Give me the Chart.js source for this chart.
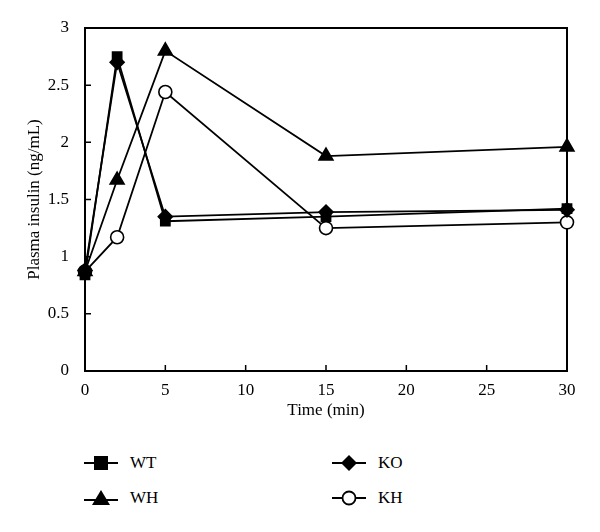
<!DOCTYPE html>
<html>
<head>
<meta charset="utf-8">
<script src="https://cdn.jsdelivr.net/npm/chart.js@4.4.0/dist/chart.umd.min.js"></script>
<style>
  body { margin: 0; background: #fff; }
  #wrap { position: relative; width: 600px; height: 532px; }
  #box { position: absolute; left: 0; top: 0; width: 600px; height: 440px; }
  .leg { position: absolute; font-family: "Liberation Serif", "DejaVu Serif", serif; font-size: 17px; color: #000; display: flex; align-items: center; }
  .leg svg { margin-right: 12px; }
</style>
</head>
<body>
<div id="wrap">
  <div id="box"><canvas id="myChart"></canvas></div>
  <div class="leg" style="left:84px;top:453px"><svg width="34" height="20"><line x1="0" y1="10" x2="34" y2="10" stroke="#000" stroke-width="1.8"/><rect x="10" y="3" width="14" height="14" fill="#000"/></svg>WT</div>
  <div class="leg" style="left:84px;top:488px"><svg width="34" height="20"><line x1="0" y1="12" x2="34" y2="12" stroke="#000" stroke-width="1.8"/><polygon points="17,2 26,17 8,17" fill="#000"/></svg>WH</div>
  <div class="leg" style="left:332px;top:453px"><svg width="34" height="20"><line x1="0" y1="10" x2="34" y2="10" stroke="#000" stroke-width="1.8"/><polygon points="17,2 25,10 17,18 9,10" fill="#000"/></svg>KO</div>
  <div class="leg" style="left:332px;top:488px"><svg width="34" height="20"><line x1="0" y1="10" x2="34" y2="10" stroke="#000" stroke-width="1.8"/><circle cx="17" cy="10" r="6.5" fill="#fff" stroke="#000" stroke-width="1.8"/></svg>KH</div>
</div>
<script>
const times = [0, 2, 5, 15, 30];
const wt = [0.84, 2.75, 1.31, 1.35, 1.42];
const wh = [0.87, 1.67, 2.80, 1.88, 1.96];
const ko = [0.88, 2.70, 1.35, 1.39, 1.41];
const kh = [0.87, 1.17, 2.44, 1.25, 1.30];

const xTicks = [0, 5, 10, 15, 20, 25, 30];
const yTicks = [0, 0.5, 1, 1.5, 2, 2.5, 3];

function pts(vals) {
  return times.map((t, i) => ({ x: t, y: vals[i] }));
}

const serif = '"Liberation Serif", "DejaVu Serif", serif';

// frame and inward ticks
const frame = {
  id: 'frame',
  beforeDatasetsDraw(chart) {
    const c = chart.ctx, a = chart.chartArea;
    const xs = chart.scales.x, ys = chart.scales.y;
    c.save();
    c.strokeStyle = '#000';
    c.lineWidth = 2;
    c.strokeRect(a.left, a.top, a.right - a.left, a.bottom - a.top);
    c.lineWidth = 1.5;
    c.beginPath();
    xTicks.forEach(v => {
      const px = xs.getPixelForValue(v);
      c.moveTo(px, a.bottom);
      c.lineTo(px, a.bottom - 6);
    });
    yTicks.forEach(v => {
      const py = ys.getPixelForValue(v);
      c.moveTo(a.left, py);
      c.lineTo(a.left + 6, py);
    });
    c.stroke();
    c.restore();
  }
};

const line = { borderColor: '#000', borderWidth: 1.8, pointBorderColor: '#000', pointBorderWidth: 1.6, clip: false, tension: 0 };

new Chart(document.getElementById('myChart'), {
  type: 'line',
  data: {
    datasets: [
      Object.assign({ label: 'WT', data: pts(wt), pointStyle: 'rect', pointRadius: 6.5, pointBackgroundColor: '#000' }, line),
      Object.assign({ label: 'WH', data: pts(wh), pointStyle: 'triangle', pointRadius: 8, pointBackgroundColor: '#000' }, line),
      Object.assign({ label: 'KO', data: pts(ko), pointStyle: 'rectRot', pointRadius: 7, pointBackgroundColor: '#000' }, line),
      Object.assign({ label: 'KH', data: pts(kh), pointStyle: 'circle', pointRadius: 6.5, pointBackgroundColor: '#fff' }, line)
    ]
  },
  options: {
    responsive: true,
    maintainAspectRatio: false,
    animation: false,
    layout: { padding: { left: 0, right: 33, top: 28, bottom: 19 } },
    plugins: { legend: { display: false }, tooltip: { enabled: false } },
    scales: {
      x: {
        type: 'linear', min: 0, max: 30,
        afterFit(scale) { scale.height = 50; },
        afterBuildTicks(scale) { scale.ticks = xTicks.map(v => ({ value: v })); },
        grid: { display: false },
        border: { display: false },
        ticks: { color: '#000', padding: 1, font: { family: serif, size: 17 }, callback: v => String(v) },
        title: { display: true, text: 'Time (min)', color: '#000', padding: { top: 2, bottom: 0 }, font: { family: serif, size: 17 } }
      },
      y: {
        min: 0, max: 3,
        afterFit(scale) { scale.width = 85; },
        afterBuildTicks(scale) { scale.ticks = yTicks.map(v => ({ value: v })); },
        grid: { display: false },
        border: { display: false },
        ticks: { color: '#000', padding: 8, font: { family: serif, size: 17 }, callback: v => String(v) },
        title: { display: true, text: 'Plasma insulin (ng/mL)', color: '#000', padding: { top: 24, bottom: 0 }, font: { family: serif, size: 17 } }
      }
    }
  },
  plugins: [frame]
});
</script>
</body>
</html>
